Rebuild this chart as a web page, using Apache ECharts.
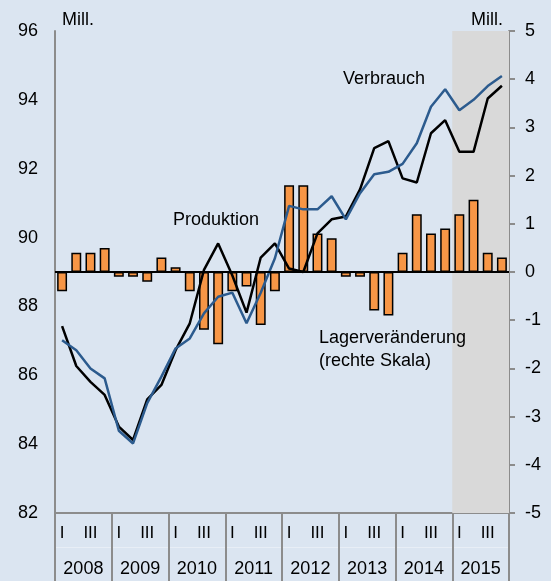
<!DOCTYPE html>
<html>
<head>
<meta charset="utf-8">
<script src="https://cdn.jsdelivr.net/npm/echarts@6/dist/echarts.min.js"></script>
<style>
  html, body { margin: 0; padding: 0; background: #dbe5f1; }
  #chart { width: 551px; height: 581px; }
</style>
</head>
<body>
<div id="chart"></div>
<script>
// Jahre und Quartalsbeschriftung (nur I und III werden angezeigt)
var years = ["2008", "2009", "2010", "2011", "2012", "2013", "2014", "2015"];
var quarterTicks = ["I", "", "III", ""];

// Mill., linke Skala
var produktion = [
    87.43, 86.27, 85.81, 85.43,
    84.51, 84.12, 85.30, 85.72,
    86.73, 87.51, 89.06, 89.83,
    88.90, 87.82, 89.42, 89.83,
    89.10, 89.00, 90.12, 90.53,
    90.61, 91.40, 92.60, 92.80,
    91.72, 91.60, 93.03, 93.41,
    92.49, 92.49, 94.04, 94.41
];
var verbrauch = [
    87.02, 86.73, 86.20, 85.91,
    84.39, 84.02, 85.19, 85.96,
    86.78, 87.07, 87.80, 88.28,
    88.40, 87.51, 88.40, 89.40,
    90.92, 90.82, 90.82, 91.20,
    90.53, 91.29, 91.84, 91.91,
    92.14, 92.74, 93.80, 94.31,
    93.70, 94.00, 94.40, 94.69
];
// Mill., rechte Skala
var lager = [
    -0.4, 0.4, 0.4, 0.5,
    -0.1, -0.1, -0.2, 0.3,
    0.1, -0.4, -1.2, -1.5,
    -0.4, -0.3, -1.1, -0.4,
    1.8, 1.8, 0.8, 0.7,
    -0.1, -0.1, -0.8, -0.9,
    0.4, 1.2, 0.8, 0.9,
    1.2, 1.5, 0.4, 0.3
];
// grau hinterlegter Zeitraum (Quartalsindex)
var shadeFrom = 28;
var shadeTo = 32;

var quarters = [];
years.forEach(function(y) {
    quarterTicks.forEach(function(q, i) {
        quarters.push(y + "-" + (i + 1));
    });
});

var font = "'Liberation Sans', Arial, sans-serif";
var axisGray = "#8c8c8c";

var chart = echarts.init(document.getElementById("chart"));

// Beschriftungen im Diagramm
function note(text, pos) {
    return Object.assign({
        type: "text",
        z: 100,
        style: { text: text, font: "18px " + font, fill: "#000" }
    }, pos);
}

var option = {
    animation: false,
    backgroundColor: "#dbe5f1",
    textStyle: { fontFamily: font },
    grid: { left: 55, right: 42, top: 31, bottom: 68 },
    xAxis: [
        {
            type: "category",
            data: quarters,
            position: "bottom",
            boundaryGap: true,
            axisLine: { show: true, lineStyle: { color: axisGray, width: 2 } },
            axisTick: { show: false },
            axisLabel: {
                interval: 0,
                margin: 12,
                fontSize: 17,
                color: "#000",
                fontFamily: font,
                formatter: function(v, i) {
                    return quarterTicks[i % 4];
                }
            },
            splitLine: { show: false }
        },
        {
            type: "category",
            data: years,
            position: "bottom",
            boundaryGap: true,
            axisLine: { show: true, lineStyle: { color: axisGray, width: 2 } },
            axisTick: {
                show: true,
                interval: 0,
                length: 70,
                lineStyle: { color: axisGray, width: 2 }
            },
            axisLabel: {
                interval: 0,
                margin: 47,
                fontSize: 18,
                color: "#000",
                fontFamily: font
            },
            splitLine: { show: false }
        },
        {
            type: "value",
            min: 0,
            max: 32,
            show: false
        },
        {
            type: "category",
            data: years,
            position: "bottom",
            offset: 34,
            axisLine: { show: true, lineStyle: { color: "#e8eef6", width: 1 } },
            axisTick: { show: false },
            axisLabel: { show: false }
        }
    ],
    yAxis: [
        {
            type: "value",
            position: "left",
            min: 82,
            max: 96,
            interval: 2,
            axisLine: { show: true, lineStyle: { color: axisGray, width: 2 } },
            axisTick: { show: false },
            axisLabel: { margin: 17, fontSize: 18, color: "#000", fontFamily: font },
            splitLine: { show: false }
        },
        {
            type: "value",
            position: "right",
            min: -5,
            max: 5,
            interval: 1,
            axisLine: { show: true, lineStyle: { color: axisGray, width: 2 } },
            axisTick: { show: true, length: 6, lineStyle: { color: axisGray, width: 2 } },
            axisLabel: { margin: 16, fontSize: 18, color: "#000", fontFamily: font },
            splitLine: { show: false }
        }
    ],
    series: [
        {
            // nur fuer die graue Hinterlegung 2015
            type: "line",
            xAxisIndex: 2,
            yAxisIndex: 0,
            data: [],
            z: 1,
            markArea: {
                silent: true,
                itemStyle: { color: "#d9d9d9" },
                data: [[{ xAxis: shadeFrom }, { xAxis: shadeTo }]]
            }
        },
        {
            name: "Lagerveränderung",
            type: "bar",
            xAxisIndex: 0,
            yAxisIndex: 1,
            barWidth: "70%",
            data: lager,
            itemStyle: { color: "#f79646", borderColor: "#000", borderWidth: 1.5 },
            markLine: {
                silent: true,
                symbol: "none",
                label: { show: false },
                lineStyle: { color: "#000", width: 2, type: "solid" },
                data: [{ yAxis: 0 }]
            }
        },
        {
            name: "Produktion",
            type: "line",
            xAxisIndex: 0,
            yAxisIndex: 0,
            data: produktion,
            symbol: "none",
            lineStyle: { color: "#000", width: 2.5 }
        },
        {
            name: "Verbrauch",
            type: "line",
            xAxisIndex: 0,
            yAxisIndex: 0,
            data: verbrauch,
            symbol: "none",
            lineStyle: { color: "#2c5b8e", width: 2.5 }
        }
    ],
    graphic: [
        note("Mill.", { left: 62, top: 11 }),
        note("Mill.", { right: 48, top: 11 }),
        note("Verbrauch", { left: 343, top: 70 }),
        note("Produktion", { left: 173, top: 211 }),
        note("Lagerveränderung", { left: 319, top: 329 }),
        note("(rechte Skala)", { left: 319, top: 352 })
    ]
};

chart.setOption(option);
</script>
</body>
</html>
